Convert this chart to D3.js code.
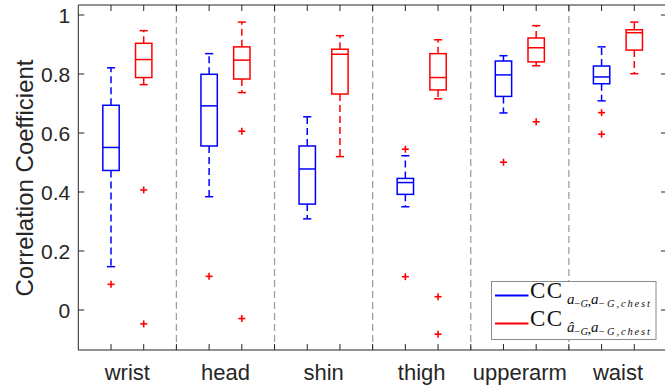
<!DOCTYPE html>
<html><head><meta charset="utf-8">
<script src="https://cdn.jsdelivr.net/npm/d3@7"></script>
<style>body{margin:0;background:#fff}svg{display:block}</style>
</head><body><svg id="c" width="665" height="390"></svg>
<script>
// ---- data ----
const categories = ["wrist", "head", "shin", "thigh", "upperarm", "waist"];
// series 1 (blue): CC_{a-G, a-G,chest}
const blueLower  = [0.147, 0.384, 0.309, 0.350, 0.668, 0.709];
const blueQ1     = [0.473, 0.556, 0.359, 0.392, 0.724, 0.767];
const blueMedian = [0.551, 0.692, 0.478, 0.432, 0.797, 0.790];
const blueQ3     = [0.694, 0.799, 0.556, 0.446, 0.844, 0.827];
const blueUpper  = [0.821, 0.869, 0.655, 0.523, 0.862, 0.892];
const blueOutliers = [[0.087], [0.114], [], [0.545, 0.113], [0.501], [0.669, 0.596]];
// series 2 (red): CC_{â-G, a-G,chest}
const redLower  = [0.764, 0.737, 0.520, 0.716, 0.828, 0.801];
const redQ1     = [0.788, 0.783, 0.732, 0.746, 0.841, 0.881];
const redMedian = [0.849, 0.847, 0.867, 0.788, 0.889, 0.940];
const redQ3     = [0.904, 0.892, 0.884, 0.869, 0.922, 0.950];
const redUpper  = [0.947, 0.976, 0.930, 0.916, 0.964, 0.976];
const redOutliers = [[0.407, -0.047], [0.606, -0.029], [], [0.045, -0.082], [0.638], []];
const yTicks = [0, 0.2, 0.4, 0.6, 0.8, 1];
const yTickLabels = ["0", "0.2", "0.4", "0.6", "0.8", "1"];
const yLabel = "Correlation Coefficient";

// ---- setup ----
const svg = d3.select("#c");
const x = d3.scaleLinear().domain([0, 18]).range([78.3, 667]);
const y = d3.scaleLinear().domain([-0.1356, 1.0339]).range([350, 5]);
const axisColor = "#262626";
const font = "'Liberation Sans', Arial, Helvetica, sans-serif";

// dividers
const dividers = d3.range(1, categories.length).map(i => 3 * i);
svg.append("g").selectAll("line").data(dividers).join("line")
  .attr("x1", d => x(d)).attr("x2", d => x(d))
  .attr("y1", y.range()[1]).attr("y2", y.range()[0])
  .attr("stroke", "#a0a0a0").attr("stroke-width", 1.3)
  .attr("stroke-dasharray", "7,4");

function drawSeries(color, offset, lo, q1, med, q3, up, outs) {
  const g = svg.append("g");
  const data = categories.map((c, i) => ({
    pos: 3 * i + offset, lo: lo[i], q1: q1[i], med: med[i], q3: q3[i], up: up[i], outs: outs[i]
  }));
  const bw = 0.25, cw = 0.125;
  g.selectAll("line.wu").data(data).join("line").attr("class", "wu")
    .attr("x1", d => x(d.pos)).attr("x2", d => x(d.pos))
    .attr("y1", d => y(d.q3)).attr("y2", d => y(d.up))
    .attr("stroke", color).attr("stroke-width", 1.5).attr("stroke-dasharray", "7,4");
  g.selectAll("line.wl").data(data).join("line").attr("class", "wl")
    .attr("x1", d => x(d.pos)).attr("x2", d => x(d.pos))
    .attr("y1", d => y(d.q1)).attr("y2", d => y(d.lo))
    .attr("stroke", color).attr("stroke-width", 1.5).attr("stroke-dasharray", "7,4");
  ["up", "lo"].forEach(k => {
    g.selectAll("line.c" + k).data(data).join("line").attr("class", "c" + k)
      .attr("x1", d => x(d.pos - cw)).attr("x2", d => x(d.pos + cw))
      .attr("y1", d => y(d[k])).attr("y2", d => y(d[k]))
      .attr("stroke", color).attr("stroke-width", 1.5);
  });
  g.selectAll("rect").data(data).join("rect")
    .attr("x", d => x(d.pos - bw)).attr("width", d => x(d.pos + bw) - x(d.pos - bw))
    .attr("y", d => y(d.q3)).attr("height", d => y(d.q1) - y(d.q3))
    .attr("fill", "none").attr("stroke", color).attr("stroke-width", 1.5);
  g.selectAll("line.m").data(data).join("line").attr("class", "m")
    .attr("x1", d => x(d.pos - bw)).attr("x2", d => x(d.pos + bw))
    .attr("y1", d => y(d.med)).attr("y2", d => y(d.med))
    .attr("stroke", color).attr("stroke-width", 1.5);
  const pts = data.flatMap(d => d.outs.map(v => ({pos: d.pos, v})));
  const s = 3.5;
  const og = g.selectAll("g.o").data(pts).join("g").attr("class", "o")
    .attr("transform", d => `translate(${x(d.pos)},${y(d.v)})`);
  og.append("line").attr("x1", -s).attr("x2", s).attr("stroke", "#ff0000").attr("stroke-width", 1.6);
  og.append("line").attr("y1", -s).attr("y2", s).attr("stroke", "#ff0000").attr("stroke-width", 1.6);
}
drawSeries("#0000ff", 1, blueLower, blueQ1, blueMedian, blueQ3, blueUpper, blueOutliers);
drawSeries("#ff0000", 2, redLower, redQ1, redMedian, redQ3, redUpper, redOutliers);

// ---- axes ----
const ax = svg.append("g").attr("stroke", axisColor).attr("stroke-width", 1);
const [xl, xr] = x.range(), [yb, yt] = y.range();
ax.append("line").attr("x1", xl).attr("x2", xl).attr("y1", yt).attr("y2", yb);
ax.append("line").attr("x1", xr).attr("x2", xr).attr("y1", yt).attr("y2", yb);
ax.append("line").attr("x1", xl).attr("x2", xr).attr("y1", yb).attr("y2", yb);
ax.append("line").attr("x1", xl).attr("x2", xr).attr("y1", yt).attr("y2", yt);
const tl = 6;
d3.range(1, 18).forEach(p => {
  ax.append("line").attr("x1", x(p)).attr("x2", x(p)).attr("y1", yb).attr("y2", yb - tl);
  ax.append("line").attr("x1", x(p)).attr("x2", x(p)).attr("y1", yt).attr("y2", yt + tl);
});
yTicks.forEach(v => {
  ax.append("line").attr("x1", xl).attr("x2", xl + tl).attr("y1", y(v)).attr("y2", y(v));
  ax.append("line").attr("x1", xr).attr("x2", xr - tl).attr("y1", y(v)).attr("y2", y(v));
});
svg.append("g").selectAll("text").data(yTicks).join("text")
  .attr("x", xl - 8).attr("y", d => y(d)).attr("dy", "0.36em")
  .attr("text-anchor", "end").attr("font-family", font).attr("font-size", 21)
  .attr("fill", axisColor).text((d, i) => yTickLabels[i]);
svg.append("g").selectAll("text").data(categories).join("text")
  .attr("x", (d, i) => x(3 * i + 1.5)).attr("y", 380)
  .attr("text-anchor", "middle").attr("font-family", font).attr("font-size", 22)
  .attr("fill", axisColor).text(d => d);
svg.append("text").attr("transform", "translate(33,178) rotate(-90)")
  .attr("text-anchor", "middle").attr("font-family", font).attr("font-size", 24)
  .attr("fill", axisColor).text(yLabel);

// ---- legend ----
const lg = svg.append("g");
lg.append("rect").attr("x", 491.5).attr("y", 281.5).attr("width", 164.5).attr("height", 58)
  .attr("fill", "#fff").attr("stroke", "#8a8a8a").attr("stroke-width", 1);
const serif = "'Liberation Serif', 'Times New Roman', serif";
const legendRows = [
  {color: "#0000ff", a: "a"},
  {color: "#ff0000", a: "\u00e2"}
];
legendRows.forEach((r, i) => {
  const by = 298 + i * 28;
  lg.append("line").attr("x1", 495).attr("x2", 528.5).attr("y1", by - 2.5).attr("y2", by - 2.5)
    .attr("stroke", r.color).attr("stroke-width", 1.8);
  lg.append("text").attr("x", 530).attr("y", by).attr("font-family", serif).attr("font-size", 23)
    .attr("letter-spacing", 1.5).attr("fill", "#111").text("CC");
  lg.append("text").attr("x", 567).attr("y", by + 6).attr("font-family", serif).attr("font-size", 15)
    .attr("font-style", "italic").attr("fill", "#111").text(r.a);
  lg.append("text").attr("x", 573.5).attr("y", by + 8.5).attr("font-family", serif).attr("font-size", 10.5)
    .attr("font-style", "italic").attr("fill", "#111").text("\u2212G");
  lg.append("text").attr("x", 587.5).attr("y", by + 7.5).attr("font-family", serif).attr("font-size", 15)
    .attr("fill", "#111").text(",");
  lg.append("text").attr("x", 591).attr("y", by + 6).attr("font-family", serif).attr("font-size", 15)
    .attr("font-style", "italic").attr("fill", "#111").text("a");
  lg.append("text").attr("x", 598).attr("y", by + 8.5).attr("font-family", serif).attr("font-size", 10.5)
    .attr("font-style", "italic").attr("textLength", 52).attr("lengthAdjust", "spacing")
    .attr("fill", "#111").text("\u2212G,chest");
});
</script></body></html>
